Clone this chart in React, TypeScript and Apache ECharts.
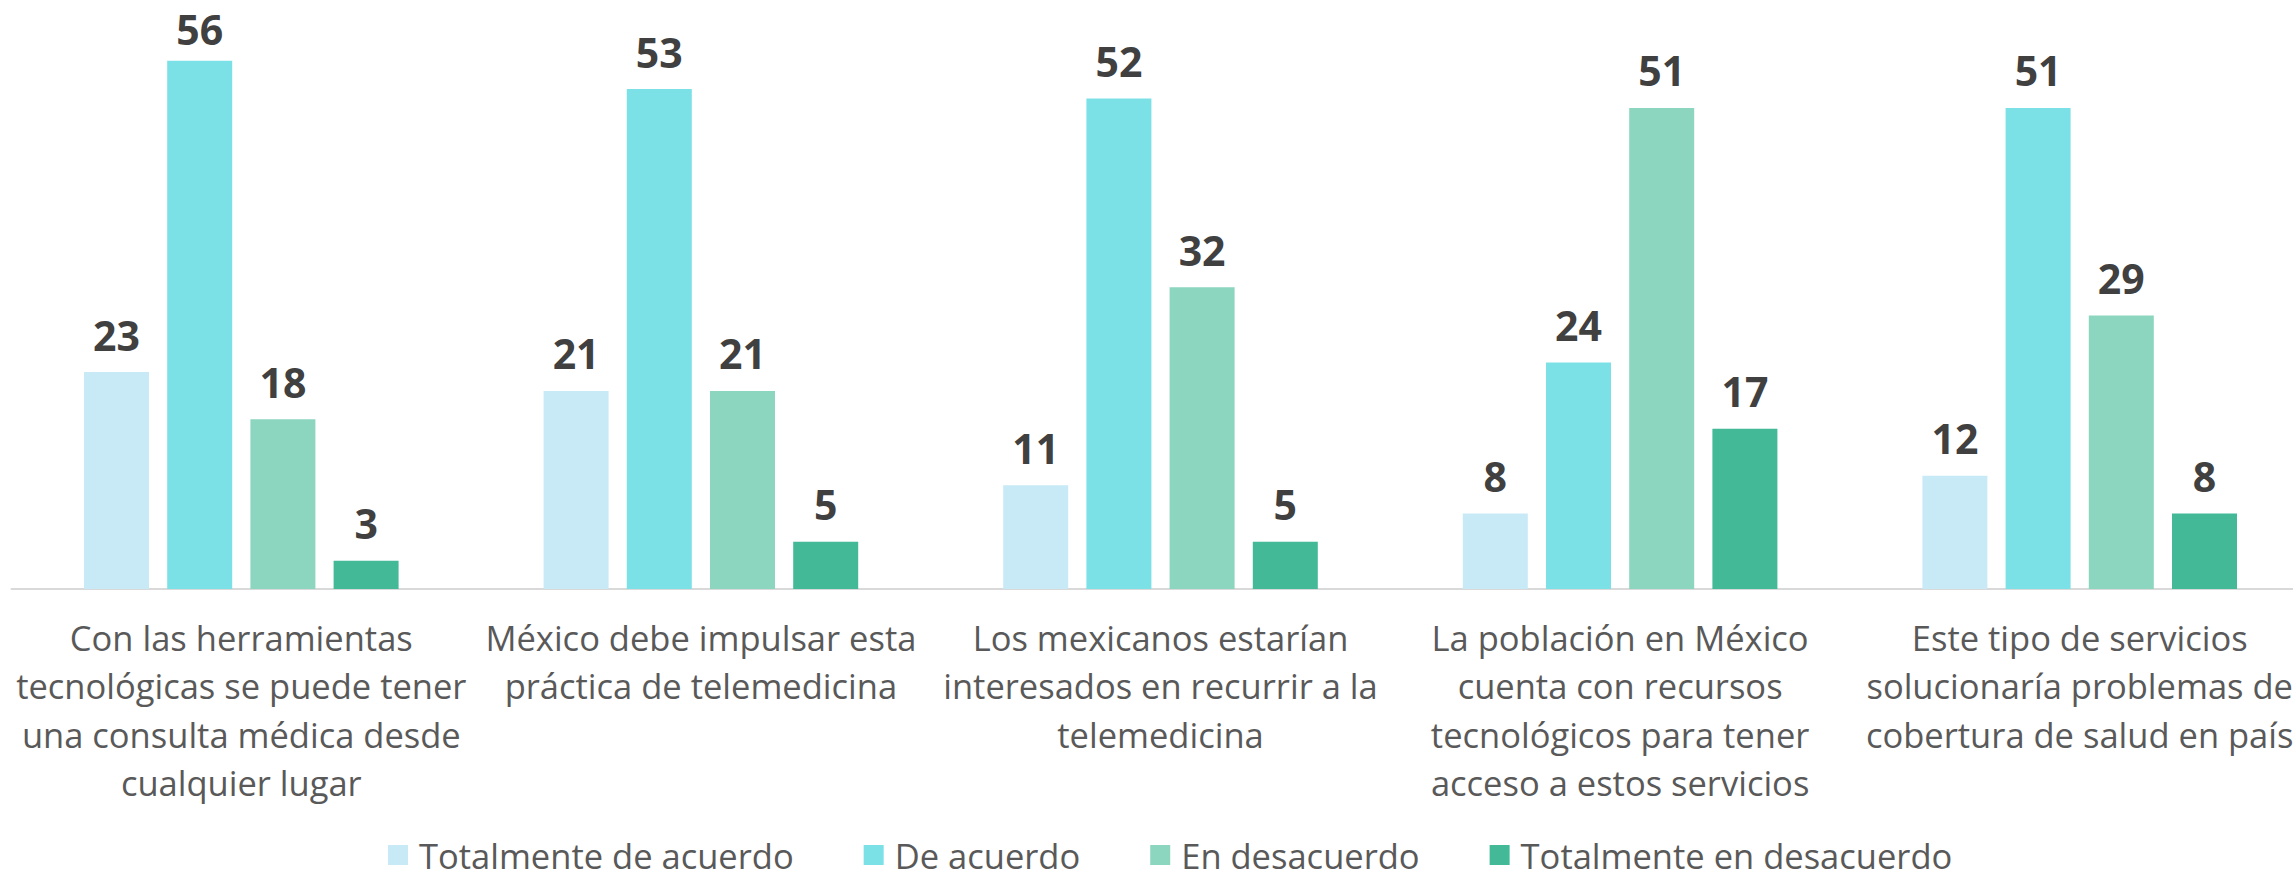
import React, { useEffect, useRef } from "react";
import * as echarts from "echarts";

const categories = [
  "Con las herramientas\ntecnológicas se puede tener\nuna consulta médica desde\ncualquier lugar",
  "México debe impulsar esta\npráctica de telemedicina",
  "Los mexicanos estarían\ninteresados en recurrir a la\ntelemedicina",
  "La población en México\ncuenta con recursos\ntecnológicos para tener\nacceso a estos servicios",
  "Este tipo de servicios\nsolucionaría problemas de\ncobertura de salud en país",
];

const seriesNames = [
  "Totalmente de acuerdo",
  "De acuerdo",
  "En desacuerdo",
  "Totalmente en desacuerdo",
];

const totalmenteDeAcuerdo = [23, 21, 11, 8, 12];
const deAcuerdo = [56, 53, 52, 24, 51];
const enDesacuerdo = [18, 21, 32, 51, 29];
const totalmenteEnDesacuerdo = [3, 5, 5, 17, 8];

const seriesValues = [totalmenteDeAcuerdo, deAcuerdo, enDesacuerdo, totalmenteEnDesacuerdo];
const colors = ["#C7EAF6", "#7BE1E6", "#8CD5BE", "#43B997"];

const FONT = "'Open Sans', 'Noto Sans', sans-serif";
const LABEL_MIN_TOP = 8.5;

export default function App() {
  const ref = useRef<HTMLDivElement>(null);

  useEffect(() => {
    if (!ref.current) return;
    const chart = echarts.init(ref.current, undefined, { renderer: "svg" });
    chart.setOption({
      animation: false,
      backgroundColor: "#ffffff",
      textStyle: { fontFamily: FONT },
      grid: { left: 11.5, right: 0.5, top: 23, bottom: 287, containLabel: false },
      legend: {
        left: 383,
        top: 830,
        itemWidth: 20,
        itemHeight: 20,
        itemGap: 70,
        icon: "rect",
        textStyle: {
          fontFamily: FONT,
          fontSize: 34.5,
          color: "#595959",
          lineHeight: 40,
          padding: [0, 0, 0, 6],
        },
        data: seriesNames,
      },
      xAxis: {
        type: "category",
        data: categories,
        axisLine: { show: true, lineStyle: { color: "#D9D9D9", width: 2 } },
        axisTick: { show: false },
        axisLabel: {
          interval: 0,
          margin: 24,
          fontFamily: FONT,
          fontSize: 34.5,
          lineHeight: 48.5,
          color: "#595959",
          align: "center",
        },
      },
      yAxis: {
        type: "value",
        min: 0,
        max: 60,
        show: false,
        splitLine: { show: false },
      },
      series: seriesNames.map((name, i) => ({
        name,
        type: "bar",
        data: seriesValues[i],
        barWidth: 65,
        barGap: "28%",
        itemStyle: { color: colors[i] },
        label: {
          show: true,
          position: "top",
          distance: 17,
          fontFamily: FONT,
          fontWeight: "bold",
          fontSize: 41,
          color: "#404040",
        },
        labelLayout: (params: any) => {
          const r = params.labelRect;
          if (r && r.y < LABEL_MIN_TOP) {
            return {
              x: r.x + r.width / 2,
              y: LABEL_MIN_TOP,
              align: "center",
              verticalAlign: "top",
            };
          }
          return {};
        },
      })),
    });
    return () => chart.dispose();
  }, []);

  return (
    <div
      style={{
        position: "absolute",
        left: 0,
        top: 0,
        width: 2293,
        height: 876,
        overflow: "hidden",
        background: "#ffffff",
      }}
    >
      <div ref={ref} style={{ width: 2310, height: 876 }} />
    </div>
  );
}
